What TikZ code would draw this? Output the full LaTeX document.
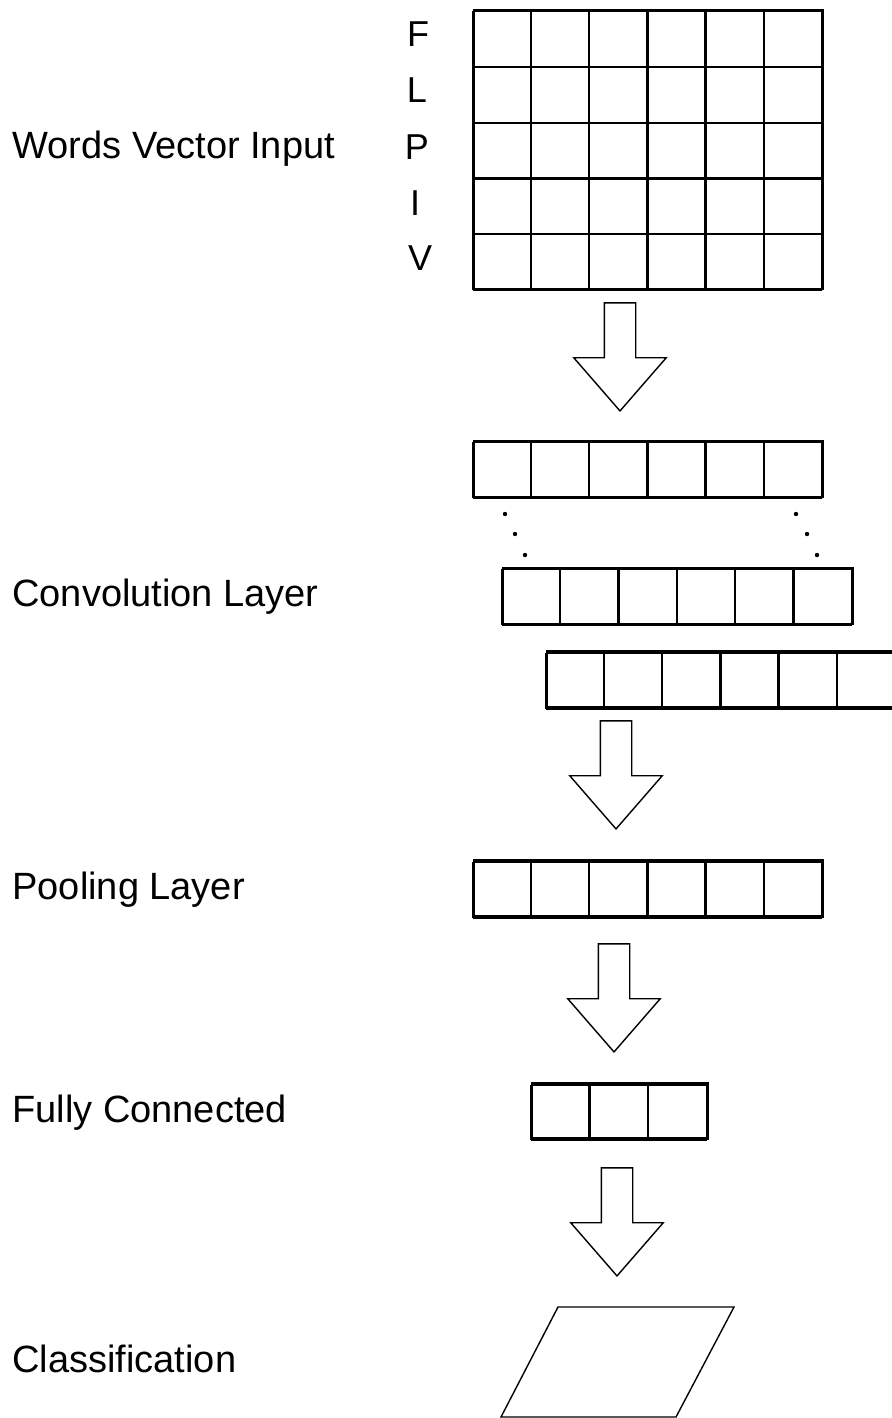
\documentclass[tikz,border=0pt]{standalone}
\usepackage{fontspec}
\setmainfont{Liberation Sans}
\usetikzlibrary{shapes.geometric, shapes.arrows, positioning}
\tikzset{
	layer/.style={draw, line width=1.1pt, inner sep=0pt},
	gridline/.style={line width=1.1pt},
	flow/.style={single arrow, draw, line width=0.7pt, inner xsep=7.5pt, inner ysep=0pt, minimum height=54pt, single arrow head extend=15.25pt, single arrow tip angle=82, shape border rotate=270, anchor=tip},
	caption/.style={font=\fontsize{19}{23}\selectfont, anchor=base west, inner sep=0pt},
	word/.style={font=\fontsize{18}{22}\selectfont, anchor=base, inner sep=0pt}
}

\begin{document}
\begin{tikzpicture}[x=0.5pt, y=0.5pt]
		\useasboundingbox (0,0) rectangle (891,-1418);
		
		% labels on the left
		\node[caption] (inputtext) at (12,-158) {Words Vector Input};
		\node[caption] (convtext) at (12,-606) {Convolution Layer};
		\node[caption] (pooltext) at (12,-899) {Pooling Layer};
		\node[caption] (densetext) at (12,-1122) {Fully Connected};
		\node[caption] (classtext) at (12,-1372) {Classification};
		
		% word vector input
		\node[layer, minimum width=174.5pt, minimum height=139.5pt] (input) at (648.5,-149.5) {};
		\draw[gridline, xstep=29.0833pt, ystep=27.9pt, shift={(input.south west)}] (0,0) grid (349,279);
		
		\node[word] (wf) at (418,-47) {F};
		\node[word] (wl) at (417,-103) {L};
		\node[word] (wp) at (417,-159) {P};
		\node[word] (wi) at (415,-215) {I};
		\node[word] (wv) at (420,-270) {V};
		
		\node[flow] (flowa) at (620,-412) {};
		
		% convolution layer
		\node[layer, minimum width=174.5pt, minimum height=28pt] (conva) at (648.5,-469) {};
		\draw[gridline, xstep=29.0833pt, ystep=28pt, shift={(conva.south west)}] (0,0) grid (349,56);
		
		\fill (505,-514) circle (1.1pt);
		\fill (515,-534) circle (1.1pt);
		\fill (525,-555) circle (1.1pt);
		\fill (796,-514) circle (1.1pt);
		\fill (807,-534) circle (1.1pt);
		\fill (817,-555) circle (1.1pt);
		
		\node[layer, minimum width=175pt, minimum height=28pt] (convb) at (678,-596) {};
		\draw[gridline, xstep=29.1667pt, ystep=28pt, shift={(convb.south west)}] (0,0) grid (350,56);
		
		\node[layer, minimum width=174.5pt, minimum height=28pt] (convc) at (721.5,-679.5) {};
		\draw[gridline, xstep=29.0833pt, ystep=28pt, shift={(convc.south west)}] (0,0) grid (349,56);
		
		\node[flow] (flowb) at (616,-830) {};
		
		% pooling layer
		\node[layer, minimum width=174.5pt, minimum height=28pt] (pooling) at (648.5,-888.5) {};
		\draw[gridline, xstep=29.0833pt, ystep=28pt, shift={(pooling.south west)}] (0,0) grid (349,56);
		
		\node[flow] (flowc) at (614,-1053) {};
		
		% fully connected
		\node[layer, minimum width=88pt, minimum height=27.5pt] (dense) at (620,-1111) {};
		\draw[gridline, xstep=29.3333pt, ystep=27.5pt, shift={(dense.south west)}] (0,0) grid (176,55);
		
		\node[flow] (flowd) at (617,-1277) {};
		
		% classification
		\draw[line width=0.7pt] (558,-1307) -- (734,-1307) -- (676,-1417) -- (501,-1417) -- cycle;
	\end{tikzpicture}
\end{document}
